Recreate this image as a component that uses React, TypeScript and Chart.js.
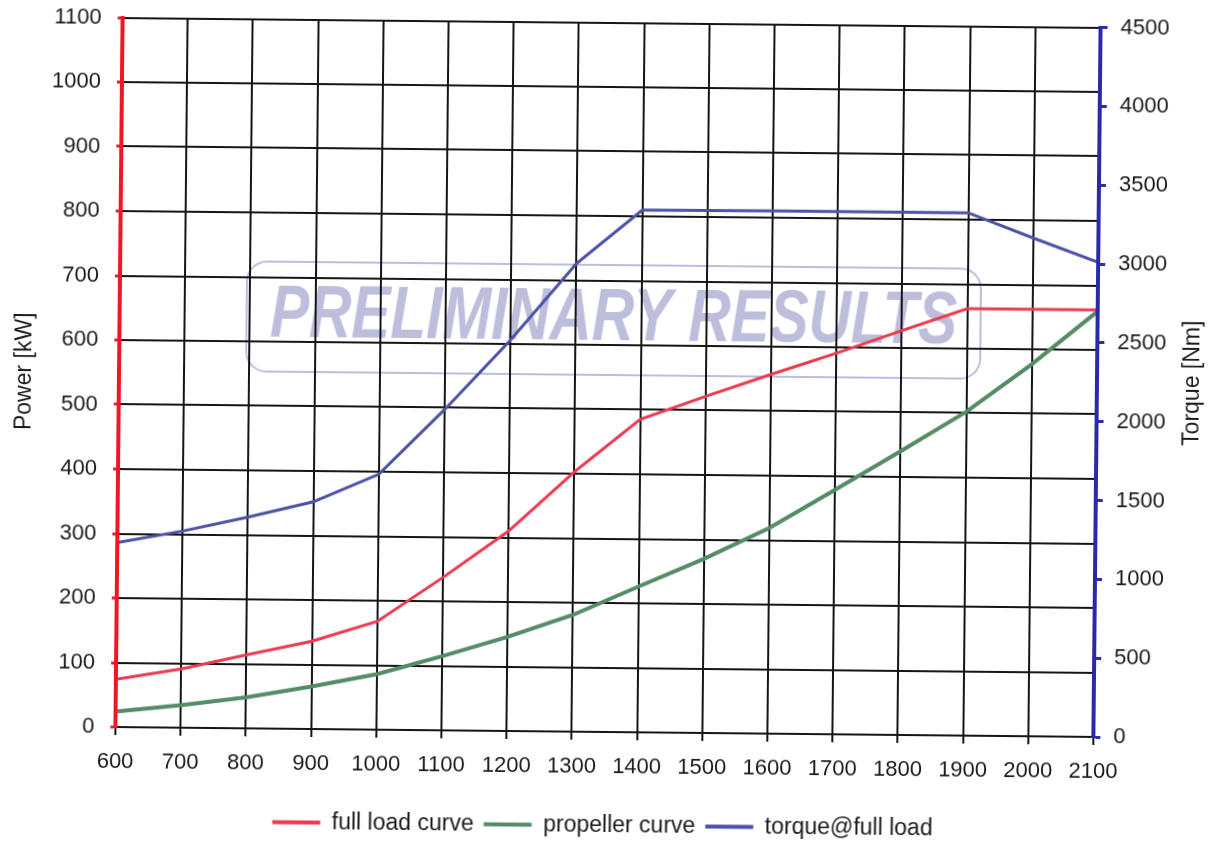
import React, { useEffect, useRef } from "react";
import { Chart, registerables } from "chart.js";

Chart.register(...registerables);

const rpm = [600, 700, 800, 900, 1000, 1100, 1200, 1300, 1400, 1500, 1600, 1700, 1800, 1900, 2000, 2100];
const fullLoadKW = [74, 91, 114, 136, 168, 237, 310, 403, 485, 522, 557, 591, 627, 662, 662, 662];
const propellerKW = [24, 35, 48, 66, 86, 115, 146, 181, 226, 270, 319, 379, 440, 502, 577, 660];
const torqueNm = [1170, 1247, 1340, 1441, 1620, 2035, 2480, 2970, 3312, 3314, 3315, 3316, 3316, 3316, 3160, 3010];
const seriesLabels = ["full load curve", "propeller curve", "torque@full load"];
const seriesColors = ["rgb(236,58,82)", "rgb(84,140,102)", "rgb(76,82,165)"];
const powerTitle = "Power [kW]";
const torqueTitle = "Torque [Nm]";
const watermarkText = "PRELIMINARY RESULTS";

const FONT = '"Liberation Sans", Arial, sans-serif';
const plain = (v: any) => String(v);

const watermarkPlugin = {
  id: "watermark",
  beforeDraw(chart: any) {
    const { ctx } = chart;
    ctx.save();
    ctx.fillStyle = "#ffffff";
    ctx.fillRect(0, 0, chart.width, chart.height);
    const cx = 613;
    const cy = 320;
    ctx.beginPath();
    ctx.roundRect(cx - 367, cy - 55, 734, 110, 20);
    ctx.strokeStyle = "rgba(178,183,218,0.9)";
    ctx.lineWidth = 2;
    ctx.stroke();
    ctx.font = `italic bold 74px ${FONT}`;
    const w = ctx.measureText(watermarkText).width;
    ctx.translate(cx, cy);
    ctx.scale(687 / w, 1);
    ctx.textAlign = "center";
    ctx.textBaseline = "middle";
    ctx.fillStyle = "rgb(188,190,219)";
    ctx.fillText(watermarkText, 0, 0);
    ctx.restore();
  },
  afterDraw(chart: any) {
    const { ctx, chartArea: a } = chart;
    ctx.save();
    ctx.translate(1193, (a.top + a.bottom) / 2);
    ctx.rotate(-Math.PI / 2);
    ctx.font = `23px ${FONT}`;
    ctx.fillStyle = "#1a1a1a";
    ctx.textAlign = "center";
    ctx.textBaseline = "middle";
    ctx.fillText(torqueTitle, 0, 0);
    ctx.restore();
  },
};

export default function App() {
  const ref = useRef<HTMLCanvasElement>(null);
  useEffect(() => {
    if (!ref.current) return;
    const mk = (vals: number[]) => rpm.map((x, i) => ({ x, y: vals[i] }));
    const chart = new Chart(ref.current, {
      type: "line",
      data: {
        datasets: [
          {
            label: seriesLabels[0],
            data: mk(fullLoadKW),
            borderColor: seriesColors[0],
            backgroundColor: seriesColors[0],
            borderWidth: 3,
            pointRadius: 0,
            tension: 0,
            yAxisID: "y",
          },
          {
            label: seriesLabels[1],
            data: mk(propellerKW),
            borderColor: seriesColors[1],
            backgroundColor: seriesColors[1],
            borderWidth: 4,
            pointRadius: 0,
            tension: 0,
            yAxisID: "y",
          },
          {
            label: seriesLabels[2],
            data: mk(torqueNm),
            borderColor: seriesColors[2],
            backgroundColor: seriesColors[2],
            borderWidth: 3,
            pointRadius: 0,
            tension: 0,
            yAxisID: "y1",
          },
        ],
      },
      options: {
        animation: false,
        responsive: false,
        devicePixelRatio: 1,
        layout: { padding: { top: 22.5, left: 0, right: 0, bottom: 0 } },
        scales: {
          x: {
            type: "linear",
            min: 600,
            max: 2100,
            ticks: { stepSize: 100, callback: plain, color: "#1a1a1a", font: { size: 22, family: FONT }, padding: 14 },
            grid: { color: "#151515", lineWidth: 2, tickLength: 8, tickColor: "#151515", tickWidth: 2 },
            border: { color: "#151515", width: 2 },
            afterFit(s: any) {
              s.height = 72;
            },
          },
          y: {
            type: "linear",
            position: "left",
            min: 0,
            max: 1100,
            ticks: { stepSize: 100, callback: plain, color: "#1a1a1a", font: { size: 22, family: FONT }, padding: 16 },
            grid: { color: "#151515", lineWidth: 2, tickLength: 5, tickColor: "rgb(238,30,50)", tickWidth: 3 },
            border: { color: "rgb(240,22,38)", width: 4, z: 1 },
            title: { display: true, text: powerTitle, color: "#1a1a1a", font: { size: 23, family: FONT }, padding: { top: 11, bottom: 0 } },
            afterFit(s: any) {
              s.width = 119;
              s.paddingTop = 0;
              s.paddingBottom = 0;
            },
          },
          y1: {
            type: "linear",
            position: "right",
            min: 0,
            max: 4500,
            ticks: { stepSize: 500, callback: plain, color: "#1a1a1a", font: { size: 22, family: FONT }, padding: 13 },
            grid: { drawOnChartArea: false, tickLength: 7, tickColor: "rgb(45,45,170)", tickWidth: 3 },
            border: { color: "rgb(42,42,168)", width: 4, z: 1 },
            afterFit(s: any) {
              s.width = 117;
              s.paddingTop = 0;
              s.paddingBottom = 0;
            },
          },
        },
        plugins: {
          legend: {
            position: "bottom",
            labels: {
              boxWidth: 48,
              boxHeight: 4,
              padding: 10,
              color: "#1a1a1a",
              font: { size: 23, family: FONT },
              generateLabels(c: any) {
                const base = (Chart as any).defaults.plugins.legend.labels.generateLabels(c);
                return base.map((l: any) => ({ ...l, lineWidth: 0, fillStyle: l.strokeStyle }));
              },
            },
          },
          tooltip: { enabled: false },
        },
      },
      plugins: [watermarkPlugin],
    });
    return () => chart.destroy();
  }, []);

  return (
    <div style={{ position: "fixed", left: 0, top: 0, width: 1214, height: 844, overflow: "hidden", background: "#fff" }}>
      <canvas
        ref={ref}
        width={1214}
        height={847}
        style={{ display: "block", transform: "rotate(0.58deg)", transformOrigin: "608px 376px" }}
      />
    </div>
  );
}
